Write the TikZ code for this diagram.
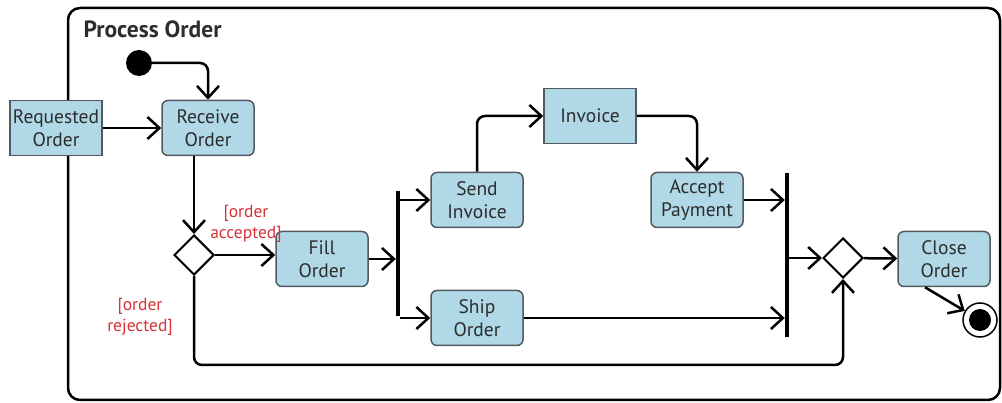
\documentclass[tikz,border=0pt]{standalone}
\usepackage{fontspec}
\setmainfont{PT Sans}
\usetikzlibrary{arrows.meta,shapes.geometric}
\definecolor{actfill}{RGB}{176,216,230}
\definecolor{actline}{RGB}{80,90,95}
\definecolor{guardred}{RGB}{215,50,55}
\definecolor{txtgray}{RGB}{45,45,45}
\begin{document}
\begin{tikzpicture}[x=1pt,y=-1pt,
  act/.style={draw=actline,fill=actfill,line width=1.5pt,rounded corners=6pt,minimum width=92pt,minimum height=55pt,inner sep=0pt,align=center,text=txtgray,font=\fontsize{19.5}{23}\selectfont},
  obj/.style={act,rounded corners=0pt},
  branch/.style={diamond,draw,line width=2pt,fill=white,minimum width=40pt,minimum height=40pt,inner sep=0pt},
  bar/.style={fill=black,inner sep=0pt,minimum width=4pt},
  guard/.style={text=guardred,align=center,font=\fontsize{17.5}{21}\selectfont},
  flow/.style={line width=2.5pt,rounded corners=8pt,-{Straight Barb[length=12pt,width=22pt]}}]
\useasboundingbox (0,0) rectangle (1002,403);
% frame
\draw[line width=2.5pt,rounded corners=12pt] (68,8) rectangle (1000,400);
\node[anchor=west,text=txtgray,font=\fontsize{23.5}{26}\selectfont\bfseries] (title) at (80,29) {Process Order};

\node[circle,fill=black,minimum size=26pt,inner sep=0pt] (start) at (139,63) {};
\node[obj] (req) at (56,128) {Requested\\Order};
\node[act] (recv) at (208,128) {Receive\\Order};
\node[branch] (dec) at (194,255) {};
\node[act] (fill) at (322,259) {Fill\\Order};
\node[bar,minimum height=125pt] (fork) at (398,254) {};
\node[act] (send) at (477,200) {Send\\Invoice};
\node[act] (ship) at (477,318) {Ship\\Order};
\node[obj] (inv) at (590,116) {Invoice};
\node[act] (acc) at (697,200) {Accept\\Payment};
\node[bar,minimum height=164pt] (join) at (787,255) {};
\node[branch] (merge) at (843,258) {};
\node[act] (close) at (944,259) {Close\\Order};
\node[circle,draw,line width=1.5pt,minimum size=34pt,inner sep=0pt] (final) at (980,320) {};
\fill (final.center) circle (11pt);

\node[guard] (acclbl) at (246,224) {[order\\accepted]};
\node[guard] (rejlbl) at (140,317) {[order\\rejected]};

\draw[flow] (start) -| (recv);
\draw[flow] (req) -- (recv);
\draw[flow] (dec.north |- recv.south) -- (dec);
\draw[flow] (dec) -- (dec -| fill.west);
\draw[flow] (fill) -- (fill -| fork.west);
\draw[flow] (fork.east |- send) -- (send);
\draw[flow] (fork.east |- ship) -- (ship);
\draw[flow] (send) |- (inv);
\draw[flow] (inv) -| (acc);
\draw[flow] (acc) -- (acc -| join.west);
\draw[flow] (ship) -- (ship -| join.west);
\draw[flow] (join.east |- merge) -- (merge);
\draw[flow] (merge) -- (close);
\draw[flow] ([xshift=-19pt]close.south) -- (final);
\draw[flow] (dec) -- ++(0,110) -| (merge);
\end{tikzpicture}
\end{document}
